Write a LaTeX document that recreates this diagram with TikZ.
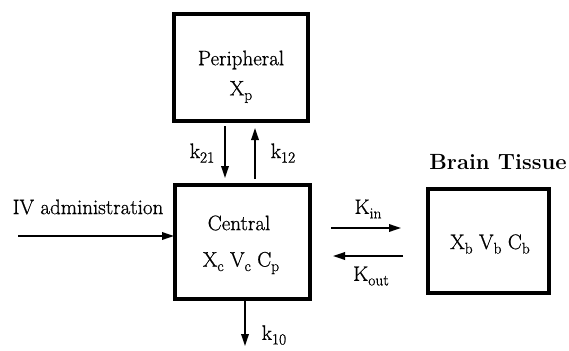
\documentclass[tikz,border=0pt]{standalone}
\usepackage{fontspec}
\setmainfont{Latin Modern Roman}
\newfontfamily\labelfont[FakeBold=0.7]{Latin Modern Roman}
\usetikzlibrary{arrows.meta}
\newcommand\lowsub[1]{\raisebox{-0.5ex}{\fontsize{15.5}{15.5}\selectfont #1}}
\begin{document}
\begin{tikzpicture}[x=1pt,y=-1pt,
  comp/.style={draw,line width=4pt},
  flow/.style={line width=1.8pt,-{Triangle[length=12pt,width=7.5pt]}},
  lbl/.style={font=\labelfont\fontsize{21}{23}\selectfont,inner sep=0pt},
  title/.style={font=\fontsize{22}{24}\selectfont\bfseries,inner sep=0pt}]
\useasboundingbox (0,0) rectangle (569,350);
% compartments
\draw[comp] (174,14) rectangle (308,121);
\draw[comp] (175,185) rectangle (310,299);
\draw[comp] (428,189) rectangle (549,293);
% names of the boxes
\node[lbl] (ptext) at (241,60) {Peripheral};
\node[lbl] (pvar) at (241,92) {X\lowsub{p}};
\node[lbl] (ctext) at (239,223) {Central};
\node[lbl] (cvar) at (241,263) {X\lowsub{c} V\lowsub{c} C\lowsub{p}};
\node[lbl] (bvar) at (490,244) {X\lowsub{b} V\lowsub{b} C\lowsub{b}};
\node[title] (btitle) at (498,162) {Brain Tissue};
% end points of the connectors
\coordinate (a21s) at (225,126);
\coordinate (a21e) at (225,178);
\coordinate (a12s) at (255,179);
\coordinate (a12e) at (255,128);
\coordinate (ivs) at (18,236);
\coordinate (ive) at (174,236);
\coordinate (k10s) at (245,300);
\coordinate (k10e) at (245,346);
\coordinate (kins) at (331,228);
\coordinate (kine) at (401,228);
\coordinate (kouts) at (403,256);
\coordinate (koute) at (333,256);
% connectors
\draw[flow] (a21s) -- (a21e);
\draw[flow] (a12s) -- (a12e);
\draw[flow] (ivs) -- (ive);
\draw[flow] (k10s) -- (k10e);
\draw[flow] (kins) -- (kine);
\draw[flow] (kouts) -- (koute);
% rate labels
\node[lbl] (l21) at (202,153) {k\lowsub{21}};
\node[lbl] (l12) at (283,153) {k\lowsub{12}};
\node[lbl] (liv) at (88,207) {IV administration};
\node[lbl] (l10) at (274,335) {k\lowsub{10}};
\node[lbl] (lin) at (368,209) {K\lowsub{in}};
\node[lbl] (lout) at (371,276) {K\lowsub{out}};
\end{tikzpicture}
\end{document}
